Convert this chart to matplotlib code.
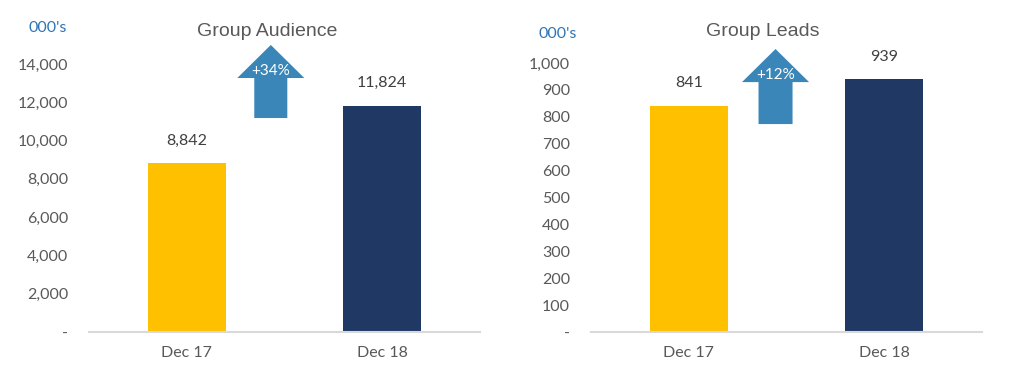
import matplotlib.pyplot as plt
from matplotlib.patches import FancyArrow
from matplotlib.ticker import FuncFormatter

# data
periods = ["Dec 17", "Dec 18"]
audience = [8842, 11824]
leads = [841, 939]
bar_colors = ["#FFC000", "#203864"]

GRAY = "#595959"
DARK = "#404040"
BLUE = "#2E75B6"
ARROW = "#3A86B9"
LABEL_FONT = ["Lato", "DejaVu Sans"]
TITLE_FONT = ["Liberation Sans", "DejaVu Sans"]
W, H = 1016, 373


def fmt(v, pos=None):
    return "-" if v == 0 else f"{v:,.0f}"


def draw_panel(ax, values, ymax, ystep, arrow):
    x = range(len(values))
    ax.bar(x, values, width=0.40, color=bar_colors, zorder=2)
    ax.set_xlim(-0.5, 1.5)
    ax.set_ylim(0, ymax)
    ax.set_yticks(range(0, ymax - ystep + 1, ystep))
    ax.yaxis.set_major_formatter(FuncFormatter(fmt))
    ax.set_xticks(list(x))
    ax.set_xticklabels(periods)
    for s in ["top", "right", "left"]:
        ax.spines[s].set_visible(False)
    ax.spines["bottom"].set_color("#D9D9D9")
    ax.spines["bottom"].set_linewidth(1.5)
    ax.tick_params(axis="y", length=0, pad=15, labelsize=11.5, labelcolor=GRAY)
    ax.tick_params(axis="x", length=0, pad=10, labelsize=11.5, labelcolor=GRAY)
    for lab in ax.get_xticklabels() + ax.get_yticklabels():
        lab.set_family(LABEL_FONT)

    # value labels
    for i, v in enumerate(values):
        ax.annotate(f"{v:,}", (i, v), xytext=(0, 11), textcoords="offset points",
                    ha="center", va="bottom", fontsize=11.5, color=DARK,
                    family=LABEL_FONT)

    # growth arrow
    ax_x, y0, y1, head_len, shaft_w, head_w = arrow
    ax.add_patch(FancyArrow(ax_x, y0, 0, y1 - y0, width=shaft_w, head_width=head_w,
                            head_length=head_len, length_includes_head=True,
                            color=ARROW, lw=0, clip_on=False, zorder=3))
    pct = (values[1] / values[0] - 1) * 100
    ax.text(ax_x, y1 - head_len * 0.8, f"+{pct:.0f}%", ha="center", va="center",
            color="white", fontsize=11, family=LABEL_FONT, zorder=4)


fig = plt.figure(figsize=(W / 100, H / 100), dpi=100)
ax1 = fig.add_axes([0.0876, 0.1099, 0.3848, 0.8214])
ax2 = fig.add_axes([0.5817, 0.1099, 0.3848, 0.7933])

draw_panel(ax1, audience, 16000, 2000, (0.43, 11175, 14990, 1726, 0.169, 0.343))
draw_panel(ax2, leads, 1100, 100, (0.444, 773, 1052, 123, 0.174, 0.343))

fig.text(267 / W, 1 - 31 / H, "Group Audience", ha="center", va="center",
         fontsize=14, color=GRAY, family=TITLE_FONT)
fig.text(763 / W, 1 - 31 / H, "Group Leads", ha="center", va="center",
         fontsize=14, color=GRAY, family=TITLE_FONT)
fig.text(67 / W, 1 - 28 / H, "000's", ha="right", va="center",
         fontsize=11.5, color=BLUE, family=LABEL_FONT)
fig.text(577 / W, 1 - 34 / H, "000's", ha="right", va="center",
         fontsize=11.5, color=BLUE, family=LABEL_FONT)

fig.savefig("out.png", dpi=100)
